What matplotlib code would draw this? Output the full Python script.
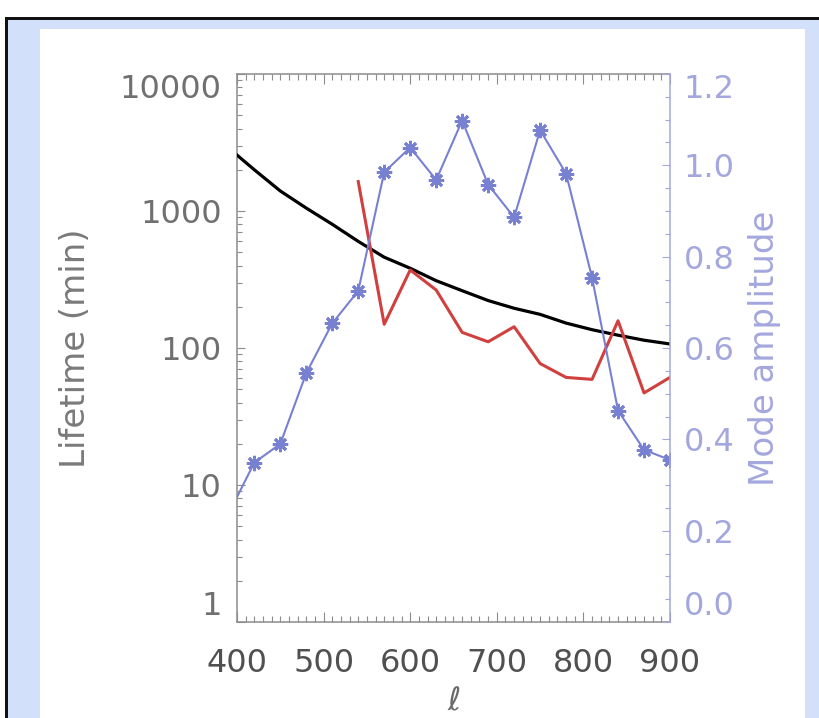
import matplotlib
matplotlib.use('Agg')
import matplotlib.pyplot as plt
from matplotlib.patches import Rectangle
from matplotlib.ticker import FixedLocator, MultipleLocator, LogLocator, NullFormatter

# Mode amplitude (blue, right axis)
ell_amp = [390, 420, 450, 480, 510, 540, 570, 600, 630, 660, 690, 720, 750, 780, 810, 840, 870, 900]
amplitude = [0.236, 0.349, 0.390, 0.545, 0.654, 0.725, 0.985, 1.039, 0.968, 1.098,
             0.958, 0.886, 1.077, 0.982, 0.754, 0.463, 0.377, 0.355]

# Lifetime curves (left axis, log)
ell_black = [400, 420, 450, 480, 510, 540, 570, 600, 630, 660, 690, 720, 750, 780, 810, 840, 870, 900]
lifetime_black = [2560, 2000, 1400, 1050, 800, 600, 460, 382, 310, 262, 222, 195, 176, 152, 136, 124, 114, 107]

ell_red = [540, 570, 600, 630, 660, 690, 720, 750, 780, 810, 840, 870, 900]
lifetime_red = [1640, 149, 371, 265, 130, 111, 143, 77, 61, 59, 158, 47, 61]

left_ticks = [1, 10, 100, 1000, 10000]
left_labels = ['1', '10', '100', '1000', '10000']
right_ticks = [0.0, 0.2, 0.4, 0.6, 0.8, 1.0, 1.2]

W, H = 820, 718
grey = '#8c8c8c'
lav = '#a3a7dd'
blue = '#7880d2'
red = '#d0403e'

plt.rcParams['font.family'] = ['DejaVu Sans']
fig = plt.figure(figsize=(W / 100, H / 100), dpi=100, facecolor='white')


def px_rect(x0, y0, x1, y1, color):
    # rectangle given in pixel coords (origin top-left)
    fig.patches.append(Rectangle((x0 / W, 1 - y1 / H), (x1 - x0) / W, (y1 - y0) / H,
                                 transform=fig.transFigure, facecolor=color,
                                 edgecolor='none', zorder=-10))


# frame decoration
px_rect(5, 17, W, H, '#111111')
px_rect(8, 20, W, H, '#d3e0fa')
px_rect(40, 29, 805, H, 'white')

ax = fig.add_axes([237 / W, 1 - 622 / H, (670 - 237) / W, (622 - 74) / H])
ax.set_facecolor('none')
ax2 = ax.twinx()

ax.plot(ell_black, lifetime_black, color='black', lw=2.3, zorder=3)
ax.plot(ell_red, lifetime_red, color=red, lw=2.2, zorder=4)
ax2.plot(ell_amp, amplitude, color=blue, lw=1.5, marker=(8, 2, 0), ms=11, mew=2)

ax.set_xlim(400, 900)
ax.set_yscale('log')
ax.set_ylim(1, 10000)
ax2.set_ylim(0, 1.2)

# x axis
ax.xaxis.set_major_locator(MultipleLocator(100))
ax.xaxis.set_minor_locator(MultipleLocator(10))
ax.tick_params(axis='x', which='both', direction='in', top=True, bottom=True,
               color=grey, width=0.8, labelsize=23, labelcolor='#505050', pad=19)
ax.tick_params(axis='x', which='major', length=7.5)
ax.tick_params(axis='x', which='minor', length=4)

# left y axis
ax.yaxis.set_major_locator(FixedLocator(left_ticks))
ax.set_yticklabels(left_labels)
ax.yaxis.set_minor_locator(LogLocator(base=10, subs=range(2, 10)))
ax.yaxis.set_minor_formatter(NullFormatter())
ax.tick_params(axis='y', which='both', direction='in', left=True, right=False,
               color=grey, width=0.8, labelsize=23, labelcolor='#707070', pad=11)
ax.tick_params(axis='y', which='major', length=6)
ax.tick_params(axis='y', which='minor', length=3.5)
labs = ax.get_yticklabels()
labs[0].set_va('bottom')
labs[-1].set_va('top')

# right y axis
ax2.yaxis.set_major_locator(FixedLocator(right_ticks))
ax2.set_yticklabels([f'{v:.1f}' for v in right_ticks])
ax2.yaxis.set_minor_locator(MultipleLocator(0.05))
ax2.tick_params(axis='y', which='both', direction='in', color=lav, width=0.8,
                labelsize=23, labelcolor=lav, pad=10)
ax2.tick_params(axis='y', which='major', length=6)
ax2.tick_params(axis='y', which='minor', length=3.5)
labs2 = ax2.get_yticklabels()
labs2[0].set_va('bottom')
labs2[-1].set_va('top')

for s in ['left', 'top', 'bottom']:
    ax.spines[s].set_color(grey)
    ax.spines[s].set_linewidth(1.1)
    ax2.spines[s].set_visible(False)
ax.spines['right'].set_visible(False)
ax2.spines['right'].set_color(lav)
ax2.spines['right'].set_linewidth(1.1)

ax.set_xlabel(r'$\ell$', fontsize=23, color='#6a6a6a', labelpad=5)
ax.set_ylabel('Lifetime (min)', fontsize=24.5, color='#7a7a7a')
ax.yaxis.set_label_coords(-0.335, 0.5)
ax2.set_ylabel('Mode amplitude', fontsize=24.5, color=lav)
ax2.yaxis.set_label_coords(1.18, 0.5)

fig.savefig('out.png', dpi=100, facecolor='white')
